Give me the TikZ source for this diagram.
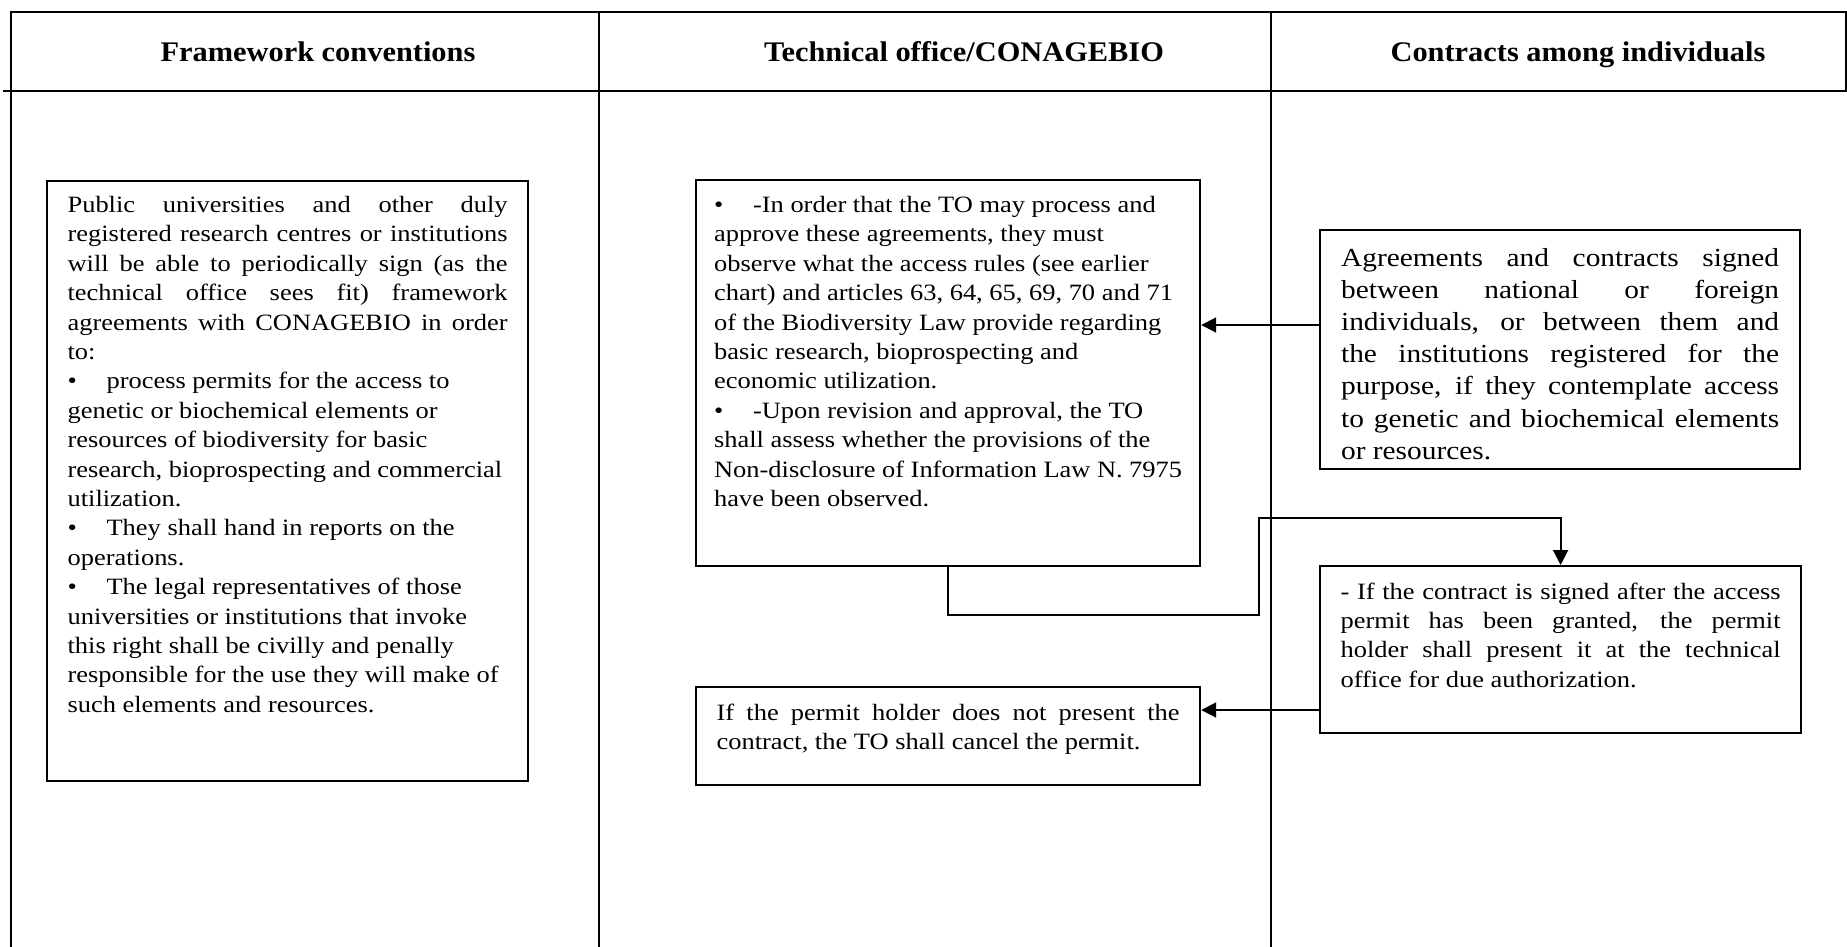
\documentclass[tikz,border=0pt]{standalone}
\usepackage{fontspec}
\setmainfont{Liberation Serif}[FakeStretch=1.13]
\newfontfamily\headfont{Liberation Serif}[FakeStretch=1.07]
\usepackage{graphicx}
\usetikzlibrary{arrows.meta}

\newcommand{\cellpar}[3]{\parbox[t][#2][t]{#1}{\rule{0pt}{10pt}\ignorespaces#3}}
\newcommand{\bul}{\makebox[19.5pt][l]{\textbullet}}

\begin{document}
\begin{tikzpicture}[x=0.5pt,y=-0.5pt,
   frame/.style={line width=1.4pt},
   rule/.style={line width=0.9pt},
   panel/.style={draw, line width=1.1pt, anchor=north west},
   head/.style={anchor=base, font=\headfont\bfseries\fontsize{14.2}{17}\selectfont},
   body/.style={font=\fontsize{11.7}{14.7}\selectfont},
   link/.style={line width=1pt, -{Triangle[length=7.5pt,width=7.5pt]}}]

\useasboundingbox (0,0) rectangle (1847,947);

% table frame
\draw[frame] (11,947) -- (11,12) -- (1847,12);
\draw[rule] (1846,12) -- (1846,91);
\draw[rule] (3,91) -- (1847,91);
\draw[rule] (599,12) -- (599,947);
\draw[rule] (1271,12) -- (1271,947);

\node[head] (hdFw) at (318,62) {Framework conventions};
\node[head] (hdTo) at (964,62) {Technical office/CONAGEBIO};
\node[head] (hdCi) at (1578,62) {Contracts among individuals};

% framework conventions
\node[panel, body, inner xsep=10.25pt, inner ysep=5.7pt] (fw) at (46,180)
  {\cellpar{220pt}{288.6pt}{Public universities and other duly\linebreak
   registered research centres or institutions\linebreak
   will be able to periodically sign (as the\linebreak
   technical office sees fit) framework\linebreak
   agreements with CONAGEBIO in order\linebreak
   to:\par
   {\raggedright\bul process permits for the access to\\
   genetic or biochemical elements or\\
   resources of biodiversity for basic\\
   research, bioprospecting and commercial\\
   utilization.\par
   \bul They shall hand in reports on the\\
   operations.\par
   \bul The legal representatives of those\\
   universities or institutions that invoke\\
   this right shall be civilly and penally\\
   responsible for the use they will make of\\
   such elements and resources.\par}}};

% technical office
\node[panel, body, inner xsep=9pt, inner ysep=6.2pt] (toReview) at (695,179)
  {\cellpar{234pt}{180.6pt}{\raggedright
   \bul -In order that the TO may process and\\
   approve these agreements, they must\\
   observe what the access rules (see earlier\\
   chart) and articles 63, 64, 65, 69, 70 and 71\\
   of the Biodiversity Law provide regarding\\
   basic research, bioprospecting and\\
   economic utilization.\par
   \bul -Upon revision and approval, the TO\\
   shall assess whether the provisions of the\\
   Non-disclosure of Information Law N. 7975\\
   have been observed.}};

\node[panel, body, inner xsep=10.25pt, inner ysep=6.5pt] (toCancel) at (695,686)
  {\cellpar{231.5pt}{36pt}{If the permit holder does not present the\linebreak
   contract, the TO shall cancel the permit.}};

% contracts among individuals
\node[panel, font=\fontsize{13}{16.1}\selectfont, inner xsep=10.5pt, inner ysep=8pt] (ciAgree) at (1319,229)
  {\cellpar{219pt}{103.5pt}{Agreements and contracts signed\linebreak
   between national or foreign\linebreak
   individuals, or between them and\linebreak
   the institutions registered for the\linebreak
   purpose, if they contemplate access\linebreak
   to genetic and biochemical elements\linebreak
   or resources.}};

\node[panel, body, inner xsep=10.25pt, inner ysep=6.5pt] (ciPermit) at (1319,565)
  {\cellpar{220pt}{70.5pt}{- If the contract is signed after the access\linebreak
   permit has been granted, the permit\linebreak
   holder shall present it at the technical\linebreak
   office for due authorization.}};

% connectors
\path (ciAgree.north west) ++(0,96) coordinate (agreeOut);
\draw[link] (agreeOut) -- (agreeOut -| toReview.east);
\path (ciPermit.north west) ++(0,145) coordinate (permitOut);
\draw[link] (permitOut) -- (permitOut -| toCancel.east);
\draw[link] (toReview.south) -- ++(0,48) -| (1259,518) -| (ciPermit.north);

\end{tikzpicture}
\end{document}
